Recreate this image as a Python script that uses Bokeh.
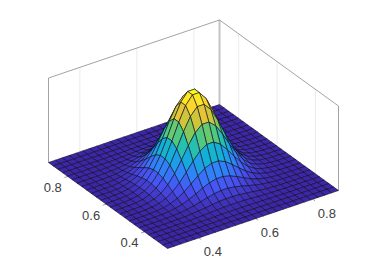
from bokeh.plotting import figure
from bokeh.embed import file_html
from bokeh.resources import INLINE
from bokeh.core.properties import value
from bokeh.models import ColumnDataSource

x_vals = [0.29,0.314,0.338,0.362,0.386,0.41,0.434,0.458,0.482,0.506,0.53,0.554,0.578,0.602,0.626,0.65,0.674,0.698,0.722,0.746,0.77,0.794,0.818,0.842,0.866,0.89]
y_vals = [0.28,0.3048,0.3296,0.3544,0.3792,0.404,0.4288,0.4536,0.4784,0.5032,0.528,0.5528,0.5776,0.6024,0.6272,0.652,0.6768,0.7016,0.7264,0.7512,0.776,0.8008,0.8256,0.8504,0.8752,0.90]
z_rows = [
[0]*26,
[0,0,0,0,0,0,0,0,0,.001,.001,.001,.001,.001,.001,.001,.001,0,0,0,0,0,0,0,0,0],
[0,0,0,0,0,0,0,.001,.001,.002,.002,.003,.003,.003,.003,.002,.002,.001,.001,0,0,0,0,0,0,0],
[0,0,0,0,0,0,.001,.002,.003,.005,.007,.008,.009,.009,.008,.007,.005,.003,.002,.001,0,0,0,0,0,0],
[0,0,0,0,.001,.001,.003,.005,.008,.013,.018,.022,.024,.024,.022,.018,.013,.008,.005,.003,.001,.001,0,0,0,0],
[0,0,0,0,.001,.003,.006,.011,.019,.029,.040,.049,.054,.054,.049,.040,.029,.019,.011,.006,.003,.001,0,0,0,0],
[0,0,0,.001,.003,.006,.013,.024,.040,.060,.082,.101,.112,.112,.101,.082,.060,.040,.024,.013,.006,.003,.001,0,0,0],
[0,0,.001,.002,.005,.011,.024,.044,.074,.113,.154,.189,.210,.210,.189,.154,.113,.074,.044,.024,.011,.005,.002,.001,0,0],
[0,0,.001,.003,.008,.019,.040,.074,.125,.189,.258,.318,.353,.353,.318,.258,.189,.125,.074,.040,.019,.008,.003,.001,0,0],
[0,.001,.002,.005,.013,.029,.060,.113,.189,.287,.392,.483,.536,.536,.483,.392,.287,.189,.113,.060,.029,.013,.005,.002,.001,0],
[0,.001,.002,.007,.018,.040,.082,.154,.258,.392,.536,.660,.732,.732,.660,.536,.392,.258,.154,.082,.040,.018,.007,.002,.001,0],
[0,.001,.003,.008,.022,.049,.101,.189,.318,.483,.660,.812,.901,.901,.812,.660,.483,.318,.189,.101,.049,.022,.008,.003,.001,0],
[0,.001,.003,.009,.024,.054,.112,.210,.353,.536,.732,.901,1.0,1.0,.901,.732,.536,.353,.210,.112,.054,.024,.009,.003,.001,0],
[0,.001,.003,.009,.024,.054,.112,.210,.353,.536,.732,.901,1.0,1.0,.901,.732,.536,.353,.210,.112,.054,.024,.009,.003,.001,0],
[0,.001,.003,.008,.022,.049,.101,.189,.318,.483,.660,.812,.901,.901,.812,.660,.483,.318,.189,.101,.049,.022,.008,.003,.001,0],
[0,.001,.002,.007,.018,.040,.082,.154,.258,.392,.536,.660,.732,.732,.660,.536,.392,.258,.154,.082,.040,.018,.007,.002,.001,0],
[0,.001,.002,.005,.013,.029,.060,.113,.189,.287,.392,.483,.536,.536,.483,.392,.287,.189,.113,.060,.029,.013,.005,.002,.001,0],
[0,0,.001,.003,.008,.019,.040,.074,.125,.189,.258,.318,.353,.353,.318,.258,.189,.125,.074,.040,.019,.008,.003,.001,0,0],
[0,0,.001,.002,.005,.011,.024,.044,.074,.113,.154,.189,.210,.210,.189,.154,.113,.074,.044,.024,.011,.005,.002,.001,0,0],
[0,0,0,.001,.003,.006,.013,.024,.040,.060,.082,.101,.112,.112,.101,.082,.060,.040,.024,.013,.006,.003,.001,0,0,0],
[0,0,0,0,.001,.003,.006,.011,.019,.029,.040,.049,.054,.054,.049,.040,.029,.019,.011,.006,.003,.001,0,0,0,0],
[0,0,0,0,.001,.001,.003,.005,.008,.013,.018,.022,.024,.024,.022,.018,.013,.008,.005,.003,.001,.001,0,0,0,0],
[0,0,0,0,0,0,.001,.002,.003,.005,.007,.008,.009,.009,.008,.007,.005,.003,.002,.001,0,0,0,0,0,0],
[0,0,0,0,0,0,0,.001,.001,.002,.002,.003,.003,.003,.003,.002,.002,.001,.001,0,0,0,0,0,0,0],
[0,0,0,0,0,0,0,0,0,.001,.001,.001,.001,.001,.001,.001,.001,0,0,0,0,0,0,0,0,0],
[0]*26,
]
x_ticks = [0.4, 0.6, 0.8]
y_ticks = [0.4, 0.6, 0.8]
x_tick_labels = ["0.4", "0.6", "0.8"]
y_tick_labels = ["0.4", "0.6", "0.8"]
parula = [(62,38,168),(72,82,244),(46,135,247),(18,177,214),(55,200,151),(171,199,57),(254,195,56),(249,251,21)]

# view of the 3-D box, in page pixels
X0, X1 = x_vals[0], x_vals[-1]
Y0, Y1 = y_vals[0], y_vals[-1]
ORG = (167.0, 248.0)
EX = ((338-167)/(X1-X0), (190-248)/(X1-X0))
EY = ((48-167)/(Y1-Y0), (162-248)/(Y1-Y0))
EZ = (0.0, -84.5)

def proj(x, y, z=0.0):
    return (ORG[0]+EX[0]*(x-X0)+EY[0]*(y-Y0)+EZ[0]*z,
            ORG[1]+EX[1]*(x-X0)+EY[1]*(y-Y0)+EZ[1]*z)

def colour(t):
    t = max(0.0, min(1.0, t))*(len(parula)-1)
    k = min(int(t), len(parula)-2)
    f = t-k
    a, b = parula[k], parula[k+1]
    return "#%02x%02x%02x" % tuple(round(a[i]+(b[i]-a[i])*f) for i in range(3))

p = figure(width=358, height=264, x_range=(0, 358), y_range=(264, 0),
           output_backend="svg", toolbar_location=None, min_border=0)
p.axis.visible = False
p.grid.visible = False
p.outline_line_color = None

# wall grid lines
gx, gy = [], []
for t in x_ticks:
    a = proj(t, Y1, 0); b = proj(t, Y1, 1)
    gx.append([a[0], b[0]]); gy.append([a[1], b[1]])
for t in y_ticks:
    a = proj(X1, t, 0); b = proj(X1, t, 1)
    gx.append([a[0], b[0]]); gy.append([a[1], b[1]])
p.multi_line(gx, gy, line_color="#e6e6e6", line_width=0.8)

# back corner
a = proj(X1, Y1, 0); b = proj(X1, Y1, 1)
p.line([a[0], b[0]], [a[1], b[1]], line_color="#c4c4c4", line_width=2)

# box frame
corners = [(X0, Y1, 0), (X0, Y1, 1), (X1, Y1, 1), (X1, Y0, 1), (X1, Y0, 0)]
pts = [proj(*c) for c in corners]
p.line([q[0] for q in pts], [q[1] for q in pts], line_color="#8c8c8c", line_width=0.8)

# ticks
tx, ty = [], []
for t in x_ticks:
    a = proj(t, Y0); b = proj(t, Y0-0.012)
    tx.append([a[0], b[0]]); ty.append([a[1], b[1]])
for t in y_ticks:
    a = proj(X0, t); b = proj(X0-0.012, t)
    tx.append([a[0], b[0]]); ty.append([a[1], b[1]])
p.multi_line(tx, ty, line_color="#8c8c8c", line_width=0.8)

# surface, far cells first
cells = []
n, m = len(y_vals), len(x_vals)
for j in range(n-1):
    for i in range(m-1):
        cells.append((i+j, i, j))
cells.sort(reverse=True)
xs, ys, cs = [], [], []
for _, i, j in cells:
    quad = [(i, j), (i+1, j), (i+1, j+1), (i, j+1)]
    q = [proj(x_vals[a], y_vals[b], z_rows[b][a]) for a, b in quad]
    xs.append([v[0] for v in q]); ys.append([v[1] for v in q])
    cs.append(colour(sum(z_rows[b][a] for a, b in quad)/4))
p.patches(xs="xs", ys="ys", fill_color="cs", line_color="#0c0c20", line_alpha=0.85, line_width=0.7,
          source=ColumnDataSource(dict(xs=xs, ys=ys, cs=cs)))

# tick labels
lx, ly, lt = [], [], []
for t, s in zip(x_ticks, x_tick_labels):
    a = proj(t, Y0)
    lx.append(a[0]+14); ly.append(a[1]+14); lt.append(s)
for t, s in zip(y_ticks, y_tick_labels):
    a = proj(X0, t)
    lx.append(a[0]-15); ly.append(a[1]+11); lt.append(s)
p.text(lx, ly, text=lt, text_font=value("Liberation Sans"), text_font_size="13px",
       text_color="#404040", text_align="center", text_baseline="middle")

open("out.html", "w").write(file_html(p, INLINE))
